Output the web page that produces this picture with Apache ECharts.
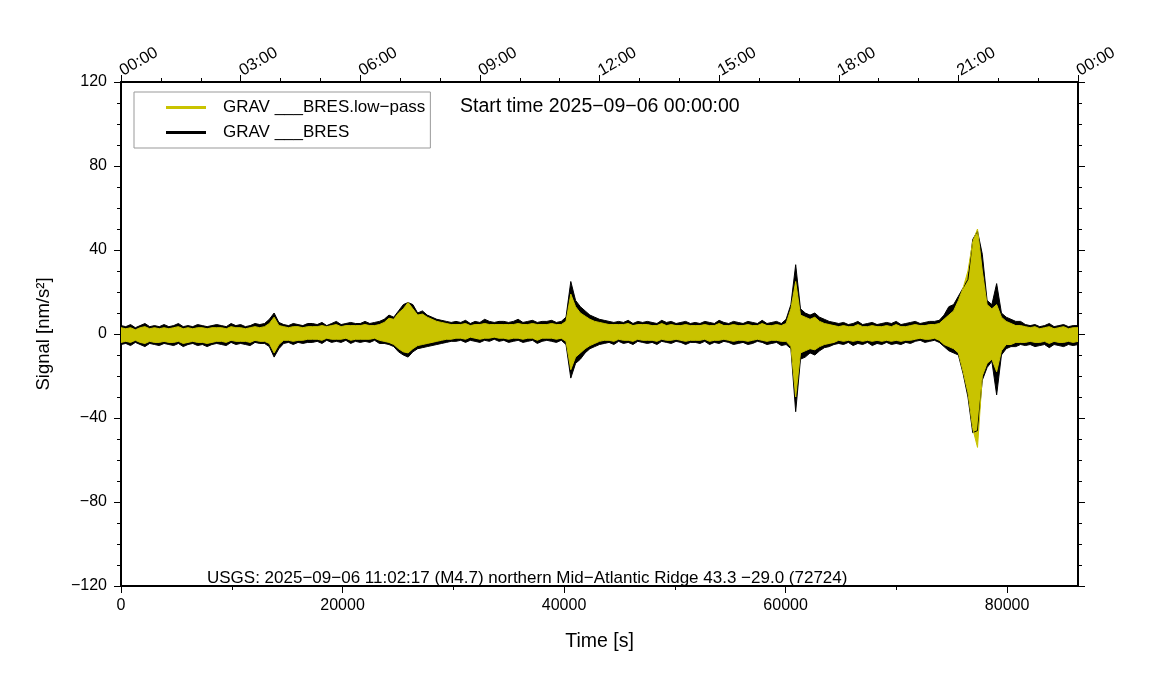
<!DOCTYPE html>
<html>
<head>
<meta charset="utf-8">
<script src="https://cdn.jsdelivr.net/npm/echarts@6/dist/echarts.min.js"></script>
<style>html,body{margin:0;padding:0;background:#fff;}#c{width:1151px;height:700px;}</style>
</head>
<body>
<div id="c"></div>
<script>
// sample step in seconds (envelope sampled every 432 s over one day)
var step = 432;
var topLabels = ['00:00','03:00','06:00','09:00','12:00','15:00','18:00','21:00','00:00'];
var bottomTicks = [0, 20000, 40000, 60000, 80000];
var seriesNames = ['GRAV ___BRES.low\u2212pass', 'GRAV ___BRES'];
var titleText = 'Start time 2025\u221209\u221206 00:00:00';
var eventText = 'USGS: 2025\u221209\u221206 11:02:17 (M4.7) northern Mid\u2212Atlantic Ridge 43.3 \u221229.0 (72724)';

// GRAV ___BRES (raw) upper / lower envelope, nm/s^2
var bHi = [
 4,3.5,4.5,3,4,5,3.5,4,3.5,4.5,
 3.5,4,5,3.5,4,3.5,4.5,4,3.5,4,
 4.5,4,3.5,5,4,4.5,3.5,4,5,4.5,
 5,7,10,5.5,4.5,4,5,4.5,4,5,
 5,4.5,5.5,4,5,6,4.5,5,5.5,5,
 5,6,5,5.5,6,7,9,8,11,14,
 15,14,10,11,9,8,7,6.5,6,5.5,
 6,5.5,6.5,5,6,5.5,7,6,5.5,6,
 6,5.5,6,7,5.5,6,6.5,5.5,6,6,
 6.5,5.5,6,8,25,16,13,11,9,8,
 7,6.5,6,5.5,6,5.5,6.5,5,6,5.5,
 6,5.5,5,6.5,5.5,6,5,5.5,6,5,
 5.5,5,6,5.5,5,6.5,5.5,5,6,5.5,
 5,6,5.5,5,6.5,5,5.5,6,5,7,
 14,33,12,10,9,10,8,7,6,5.5,
 5,5.5,4.5,5,6,4.5,5,5.5,4.5,5,
 5.5,5,6,4.5,5,5.5,6,5,5.5,6,
 6,6.5,9,13,14,18,22,26,45,49,
 38,16,14,24,10,8,7,6,6,4.5,
 4,4.5,3.5,4,5,3.5,4,4.5,3.5,4,
 4
];
var bLo = [
 -5,-4.5,-5.5,-4,-5,-6,-4.5,-5,-5.5,-4.5,
 -5,-5.5,-4.5,-6,-5,-4.5,-5.5,-5,-6,-5,
 -4.5,-5,-5.5,-4,-5,-4.5,-5,-5.5,-4,-4.5,
 -4.5,-6,-11,-7,-4.5,-4,-5,-4,-4.5,-4,
 -4,-3.5,-4.5,-3,-4,-3.5,-4,-3,-4.5,-3.5,
 -4,-3.5,-4,-3,-4.5,-4.5,-5,-6,-8.5,-10,
 -11,-8.5,-7,-6.5,-6,-5.5,-5,-4.5,-4,-3.5,
 -3.5,-3,-4,-3,-3.5,-4,-3,-3.5,-2.5,-3.5,
 -3,-4,-3.5,-3,-4,-3.5,-3,-4.5,-3.5,-3,
 -3.5,-4,-3,-5,-21,-14,-12,-9,-7,-6,
 -5,-4.5,-4,-5,-3.5,-4.5,-4,-5,-3.5,-4,
 -4.5,-4,-5,-3.5,-4,-4.5,-3.5,-4,-5,-4,
 -4,-4.5,-3.5,-5,-4,-4.5,-3.5,-4,-5,-4.5,
 -4,-5,-4.5,-3.5,-4,-5,-4.5,-4,-5.5,-5,
 -7,-37,-12,-11,-9,-10,-8,-6.5,-6,-5,
 -4.5,-5,-4,-5.5,-4.5,-5,-4,-5.5,-4.5,-5,
 -4,-5,-4.5,-5,-4,-4.5,-3.5,-3,-4,-3.5,
 -3,-4,-6,-8,-9,-10,-19,-30,-47,-46,
 -22,-16,-13,-29,-10,-7,-6,-6,-5,-5.5,
 -5,-6,-5.5,-5,-6.5,-5,-5.5,-6,-5,-5.5,
 -5
];
// GRAV ___BRES.low-pass upper / lower envelope, nm/s^2
var yHi = [
 3,2.5,3,2,3,3.5,2.5,3,2.5,3,
 2.5,3,3.5,2.5,3,2.5,3,3,2.5,3,
 3,3,2.5,3.5,3,3,2.5,3,3.5,3,
 3.5,5,8,4,3.5,3,3.5,3.5,3,3.5,
 3.5,3.5,4,3.5,4,4.5,3.5,4,4,4,
 4,4.5,4,4,4.5,5.5,7.5,7,10,12,
 15,12,9,9.5,8,7,6,5.5,5,4.5,
 4.5,4.5,5,4,4.5,4.5,5,4.5,4.5,4.5,
 4.5,4.5,4.5,5,4.5,4.5,5,4.5,4.5,4.5,
 5,4.5,4.5,6,19,13,10,8.5,7,6,
 5.5,5,4.5,4.5,4.5,4.5,5,4,4.5,4.5,
 4.5,4,4,5,4,4.5,4,4,4.5,4,
 4,4,4.5,4,4,5,4,4,4.5,4,
 4,4.5,4,4,5,4,4,4.5,4,5,
 12,25,9,8,7,8,6,5,4.5,4,
 3.5,4,3.5,3.5,4.5,3.5,3.5,4,3.5,3.5,
 4,3.5,4.5,3.5,3.5,4,4.5,4,4,4.5,
 4.5,5,7,9,11,16,22,30,44,50,
 30,14,12,14,8,6,5,4,4,3.5,
 3,3.5,2.5,3,3.5,2.5,3,3.5,2.5,3,
 3
];
var yLo = [
 -4,-3.5,-4,-3,-4,-4.5,-3.5,-4,-4,-3.5,
 -4,-4,-3.5,-4.5,-4,-3.5,-4,-4,-4.5,-4,
 -3.5,-3.5,-4,-3,-3.5,-3.5,-3.5,-4,-3,-3.5,
 -3.5,-4.5,-9,-5,-3,-3,-3.5,-3,-3,-2.5,
 -2.5,-2.5,-3,-2,-2.5,-2.5,-2.5,-2,-3,-2.5,
 -2.5,-2.5,-2.5,-2,-3,-3.5,-4,-5,-7,-8.5,
 -9,-7,-5.5,-5,-4.5,-4,-3.5,-3,-2.5,-2.5,
 -2,-2,-2.5,-1.5,-2,-2.5,-2,-2,-1.5,-2,
 -2,-2.5,-2,-2,-2.5,-2,-2,-3,-2,-2,
 -2,-2.5,-2,-3.5,-17,-11,-9,-7,-5.5,-4.5,
 -3.5,-3,-3,-3.5,-2.5,-3,-3,-3.5,-2.5,-3,
 -3,-3,-3.5,-2.5,-3,-3,-2.5,-3,-3.5,-3,
 -3,-3,-2.5,-3.5,-3,-3,-2.5,-3,-3.5,-3,
 -3,-3.5,-3,-2.5,-3,-3.5,-3,-3,-3.5,-3.5,
 -6,-30,-9,-8,-7,-7.5,-6,-5,-4.5,-4,
 -3,-3.5,-3,-3.5,-3,-3.5,-3,-3.5,-3,-3.5,
 -3,-3.5,-3,-3.5,-3,-3,-2.5,-2,-2.5,-2.5,
 -2,-3,-5,-6,-7,-9,-18,-28,-45,-54,
 -20,-14,-12,-18,-8,-5,-5,-4,-4,-4,
 -3.5,-4,-4,-3.5,-4.5,-3.5,-4,-4,-3.5,-4,
 -3.5
];

var yellow = '#c9c300';
var font = 'Liberation Sans, Arial, Helvetica, sans-serif';

// sample times (s) used as the hidden category axis for the envelope bands
var times = bHi.map(function (v, i) { return i * step; });
function diff(hi, lo) { return hi.map(function (v, i) { return v - lo[i]; }); }
function minus(v) { return String(v).replace('-', '\u2212'); }

var chart = echarts.init(document.getElementById('c'), null, { renderer: 'canvas' });
var axisLine = { show: true, onZero: false, lineStyle: { color: '#000', width: 2 } };
var tickStyle = { color: '#000', width: 1 };
var option = {
  animation: false,
  backgroundColor: '#fff',
  textStyle: { fontFamily: font },
  grid: { left: 121, right: 73, top: 82, bottom: 114, containLabel: false },
  title: [
    { text: titleText, left: 455, top: 92, textStyle: { fontFamily: font, fontSize: 19.5, fontWeight: 'normal', color: '#000' } },
    { text: eventText, left: 202, top: 565, textStyle: { fontFamily: font, fontSize: 17, fontWeight: 'normal', color: '#000' } }
  ],
  legend: {
    orient: 'vertical', left: 134, top: 92,
    padding: [7, 5, 7, 32], itemGap: 8, itemWidth: 40, itemHeight: 3,
    icon: 'rect', borderColor: '#999', borderWidth: 1, backgroundColor: '#fff',
    data: seriesNames,
    textStyle: { fontFamily: font, fontSize: 17, color: '#000', padding: [0, 0, 0, 12] }
  },
  xAxis: [
    {
      type: 'value', position: 'bottom', min: 0, max: 86400, interval: 20000,
      name: 'Time [s]', nameLocation: 'middle', nameGap: 46,
      nameTextStyle: { fontFamily: font, fontSize: 19.5, color: '#000' },
      axisLine: axisLine,
      axisTick: { show: true, inside: false, length: 7, lineStyle: tickStyle, customValues: bottomTicks },
      minorTick: { show: true, splitNumber: 2, length: 4, lineStyle: tickStyle },
      axisLabel: { fontFamily: font, fontSize: 16, color: '#000', margin: 12, customValues: bottomTicks,
        formatter: function (v) { return String(v); } },
      splitLine: { show: false }, minorSplitLine: { show: false }
    },
    {
      type: 'value', position: 'top', min: 0, max: 86400, interval: 10800,
      axisLine: axisLine,
      axisTick: { show: true, inside: false, length: 7, lineStyle: tickStyle },
      minorTick: { show: true, splitNumber: 3, length: 4, lineStyle: tickStyle },
      axisLabel: {
        fontFamily: font, fontSize: 16.5, color: '#000', margin: 10, rotate: -30,
        formatter: function (v) { return topLabels[Math.round(v / 10800)]; }
      },
      splitLine: { show: false }
    },
    {
      type: 'category', data: times, boundaryGap: false, show: false
    }
  ],
  yAxis: [
    {
      type: 'value', position: 'left', min: -120, max: 120, interval: 40,
      name: 'Signal [nm/s\u00b2]', nameLocation: 'middle', nameGap: 68,
      nameTextStyle: { fontFamily: font, fontSize: 18.5, color: '#000' },
      axisLine: axisLine,
      axisTick: { show: true, inside: false, length: 7, lineStyle: tickStyle },
      minorTick: { show: true, splitNumber: 4, length: 4, lineStyle: tickStyle },
      axisLabel: { fontFamily: font, fontSize: 16, color: '#000', margin: 14, formatter: minus },
      splitLine: { show: false }
    },
    {
      type: 'value', position: 'right', min: -120, max: 120, interval: 40,
      axisLine: axisLine,
      axisTick: { show: true, inside: false, length: 7, lineStyle: tickStyle },
      minorTick: { show: true, splitNumber: 4, length: 4, lineStyle: tickStyle },
      axisLabel: { show: false },
      splitLine: { show: false }
    }
  ],
  series: [
    {
      name: 'rawLow', type: 'line', xAxisIndex: 2, yAxisIndex: 0, stack: 'raw', stackStrategy: 'all', data: bLo,
      symbol: 'none', silent: true, lineStyle: { color: '#000', width: 1 }, itemStyle: { color: '#000' }
    },
    {
      name: seriesNames[1], type: 'line', xAxisIndex: 2, yAxisIndex: 0, stack: 'raw', stackStrategy: 'all', data: diff(bHi, bLo),
      symbol: 'none', silent: true, lineStyle: { color: '#000', width: 1 }, itemStyle: { color: '#000' },
      areaStyle: { color: '#000', opacity: 1 }
    },
    {
      name: 'lpLow', type: 'line', xAxisIndex: 2, yAxisIndex: 0, stack: 'lp', stackStrategy: 'all', data: yLo,
      symbol: 'none', silent: true, lineStyle: { color: yellow, width: 1 }, itemStyle: { color: yellow }
    },
    {
      name: seriesNames[0], type: 'line', xAxisIndex: 2, yAxisIndex: 0, stack: 'lp', stackStrategy: 'all', data: diff(yHi, yLo),
      symbol: 'none', silent: true, lineStyle: { color: yellow, width: 1 }, itemStyle: { color: yellow },
      areaStyle: { color: yellow, opacity: 1 }
    }
  ]
};
chart.setOption(option);
</script>
</body>
</html>
